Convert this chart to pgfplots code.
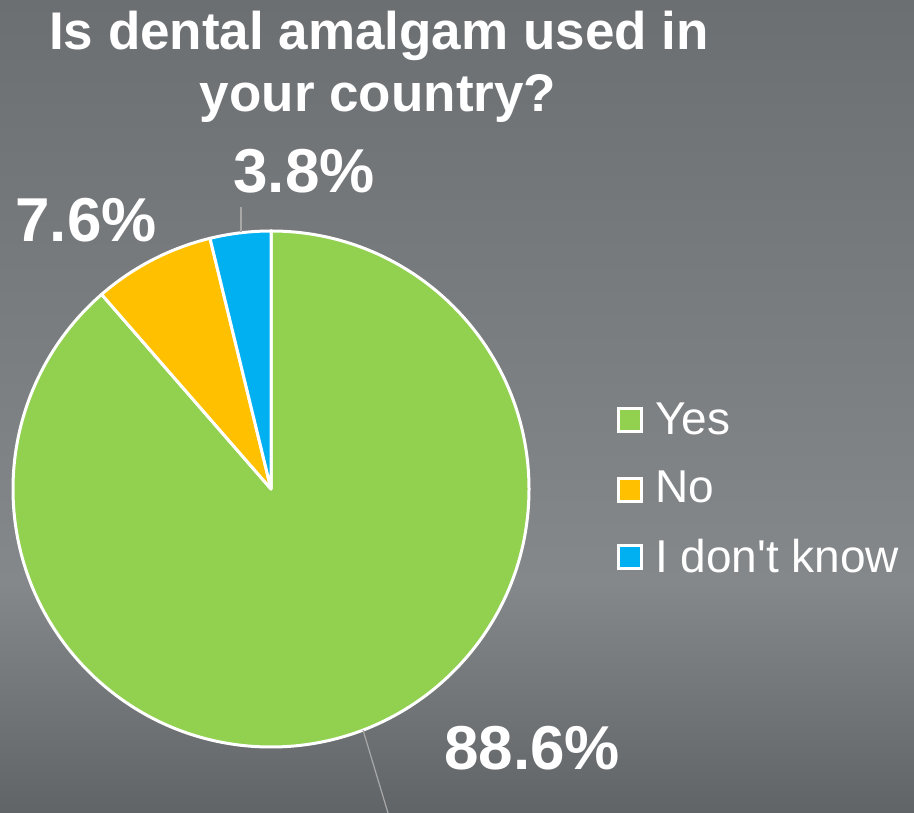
\documentclass[border=0pt]{standalone}
\usepackage{pgfplots}
\usepackage{pgfplotstable}
\pgfplotsset{compat=1.18}
\usepackage{fontspec}
\setmainfont{Liberation Sans}
\definecolor{yesc}{HTML}{92D050}
\definecolor{noc}{HTML}{FFC000}
\definecolor{idkc}{HTML}{00B0F0}
\definecolor{bgtop}{HTML}{6C6F72}
\definecolor{bgmid}{HTML}{85888B}
\definecolor{bgbot}{HTML}{616467}
\definecolor{leader}{HTML}{A8A8A8}
\pgfplotstableread{
label value
Yes 88.6
No 7.6
IDK 3.8
}\piedata
\begin{document}
\begin{tikzpicture}
\pgfplotstablegetelem{0}{value}\of\piedata \let\vA\pgfplotsretval
\pgfplotstablegetelem{1}{value}\of\piedata \let\vB\pgfplotsretval
\pgfplotstablegetelem{2}{value}\of\piedata \let\vC\pgfplotsretval
\pgfmathsetmacro\aO{90}
\pgfmathsetmacro\aA{90-3.6*\vA}
\pgfmathsetmacro\aB{\aA-3.6*\vB}
\pgfmathsetmacro\aC{\aB-3.6*\vC}
\begin{axis}[
  width=914bp, height=813bp, scale only axis,
  xmin=0, xmax=914, ymin=0, ymax=813,
  enlargelimits=false, hide axis, clip=true,
]
% background
\fill[top color=bgtop, bottom color=bgmid] (axis cs:0,813) rectangle (axis cs:914,230);
\fill[top color=bgmid, bottom color=bgbot] (axis cs:0,230.5) rectangle (axis cs:914,0);
% pie
\filldraw[fill=yesc, draw=white, line width=3bp, line join=round]
  (axis cs:271,324) -- ++(\aO:258bp) arc[start angle=\aO, end angle=\aA, radius=258bp] -- cycle;
\filldraw[fill=noc, draw=white, line width=3bp, line join=round]
  (axis cs:271,324) -- ++(\aA:258bp) arc[start angle=\aA, end angle=\aB, radius=258bp] -- cycle;
\filldraw[fill=idkc, draw=white, line width=3bp, line join=round]
  (axis cs:271,324) -- ++(\aB:258bp) arc[start angle=\aB, end angle=\aC, radius=258bp] -- cycle;
% leaders
\draw[leader, line width=1.2bp] (axis cs:241,606) -- (axis cs:241,581);
\draw[leader, line width=1.2bp] (axis cs:363,83) -- (axis cs:388,0);
% data labels
\node[anchor=base, inner sep=0, text=white, font=\fontsize{62bp}{70bp}\selectfont\bfseries] at (axis cs:304,620) {\vC\%};
\node[anchor=base, inner sep=0, text=white, font=\fontsize{62bp}{70bp}\selectfont\bfseries] at (axis cs:86,571) {\vB\%};
\node[anchor=base, inner sep=0, text=white, font=\fontsize{62bp}{70bp}\selectfont\bfseries] at (axis cs:532,43) {\vA\%};
% title
\node[anchor=base, inner sep=0, text=white, font=\fontsize{53bp}{60bp}\selectfont\bfseries] at (axis cs:379,763) {Is dental amalgam used in};
\node[anchor=base, inner sep=0, text=white, font=\fontsize{53bp}{60bp}\selectfont\bfseries] at (axis cs:378,701) {your country?};
% legend
\filldraw[fill=yesc, draw=white, line width=2.5bp] (axis cs:618.5,381.5) rectangle (axis cs:641.5,404.5);
\filldraw[fill=noc, draw=white, line width=2.5bp] (axis cs:618.5,311.5) rectangle (axis cs:641.5,334.5);
\filldraw[fill=idkc, draw=white, line width=2.5bp] (axis cs:618.5,244.5) rectangle (axis cs:641.5,267.5);
\node[anchor=base west, inner sep=0, text=white, font=\fontsize{46bp}{52bp}\selectfont] at (axis cs:655,378) {Yes};
\node[anchor=base west, inner sep=0, text=white, font=\fontsize{46bp}{52bp}\selectfont] at (axis cs:655,310) {No};
\node[anchor=base west, inner sep=0, text=white, font=\fontsize{46bp}{52bp}\selectfont] at (axis cs:655,240) {I don\textquotesingle t know};
\end{axis}
\end{tikzpicture}
\end{document}
